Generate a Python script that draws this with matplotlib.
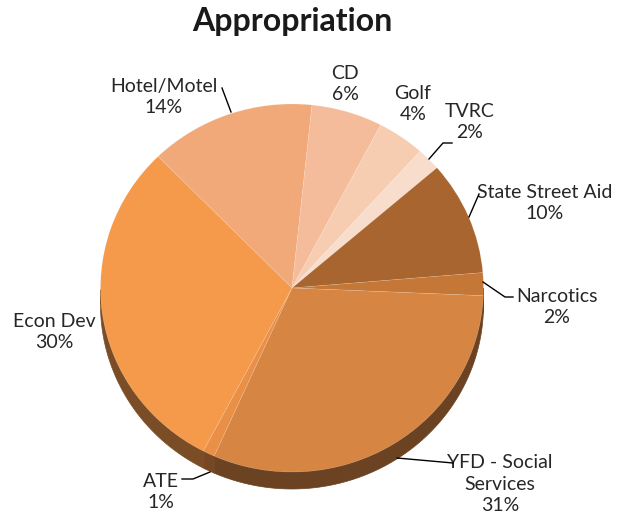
import numpy as np
import matplotlib
matplotlib.use("Agg")
import matplotlib.pyplot as plt
from matplotlib.patches import Polygon
import matplotlib.colors as mcolors

# ---- data ----
labels = ["Hotel/Motel", "CD", "Golf", "TVRC", "State Street Aid", "Narcotics",
          "YFD - Social\nServices", "ATE", "Econ Dev"]
values = [14, 6, 4, 2, 10, 2, 31, 1, 30]
pct_labels = ["14%", "6%", "4%", "2%", "10%", "2%", "31%", "1%", "30%"]
colors = ["#F1A97A", "#F5BC9B", "#F7CDB2", "#F9DDCC", "#A8652F", "#C47737",
          "#D68543", "#E98F46", "#F5994B"]
title = "Appropriation"

plt.rcParams['font.family'] = ['Lato', 'DejaVu Sans']

W, H = 628, 516
fig = plt.figure(figsize=(W / 100, H / 100), dpi=100)
ax = fig.add_axes([0, 0, 1, 1])

# geometry in pixels
cx, cy = 292, 288          # center (top-origin pixels)
rx, ry = 191.5, 184        # radii in pixels
depth = 17 / ry            # wall depth in data units

xlim = (-cx / rx, (W - cx) / rx)
ylim = (-(H - cy) / ry, cy / ry)

def px(x, y):
    """pixel (top-origin) -> data"""
    return ((x - cx) / rx, (cy - y) / ry)

startangle = 134.4
wedges, _ = ax.pie(values, colors=colors, startangle=startangle, counterclock=False,
                   radius=1, center=(0, 0), frame=True,
                   wedgeprops=dict(linewidth=0.4, edgecolor=(1, 1, 1, 0.2)))
for w in wedges:
    w.set_zorder(3)

# side wall (3D effect)
for w, c in zip(wedges, colors):
    t1, t2 = sorted([w.theta1, w.theta2])
    ts = np.linspace(t1, t2, 200)
    ts = ts[np.sin(np.radians(ts)) < 0.0001]
    if len(ts) < 2:
        continue
    r = np.radians(ts)
    top = np.column_stack([np.cos(r), np.sin(r)])
    bot = np.column_stack([np.cos(r), np.sin(r) - depth])[::-1]
    rgb = np.array(mcolors.to_rgb(c)) * 0.5
    ax.add_patch(Polygon(np.vstack([top, bot]), closed=True, facecolor=rgb,
                         edgecolor=rgb, linewidth=0.5, zorder=2))

ax.set_xlim(*xlim)
ax.set_ylim(*ylim)
ax.set_aspect('auto')
ax.axis('off')

# labels (pixel positions)
text_pos = {
    "Hotel/Motel": (164, 97),
    "CD": (345, 84),
    "Golf": (413, 104),
    "TVRC": (470, 122),
    "State Street Aid": (545, 203),
    "Narcotics": (557, 307),
    "YFD - Social\nServices": (500, 484),
    "ATE": (161, 492),
    "Econ Dev": (54, 332),
}
fs = 14
for lab, pct in zip(labels, pct_labels):
    x, y = text_pos[lab]
    ax.text(*px(x, y), lab + "\n" + pct, ha='center', va='center', fontsize=fs,
            color='#262626', linespacing=1.35, zorder=5)

# leader lines
leaders = [
    [(222, 88), (231, 112)],
    [(452, 143), (443, 143), (429, 159)],
    [(479, 194), (469, 217)],
    [(513, 297), (505, 297), (483, 282)],
    [(453, 463), (397, 458)],
    [(182, 479), (193, 479), (210, 472)],
]
for pts in leaders:
    d = np.array([px(x, y) for x, y in pts])
    ax.plot(d[:, 0], d[:, 1], color='black', lw=1.0, zorder=5)

ax.text(*px(292, 21), title, ha='center', va='center', fontsize=23,
        fontweight='bold', color='#1a1a1a')

fig.savefig("out.png", dpi=100)
